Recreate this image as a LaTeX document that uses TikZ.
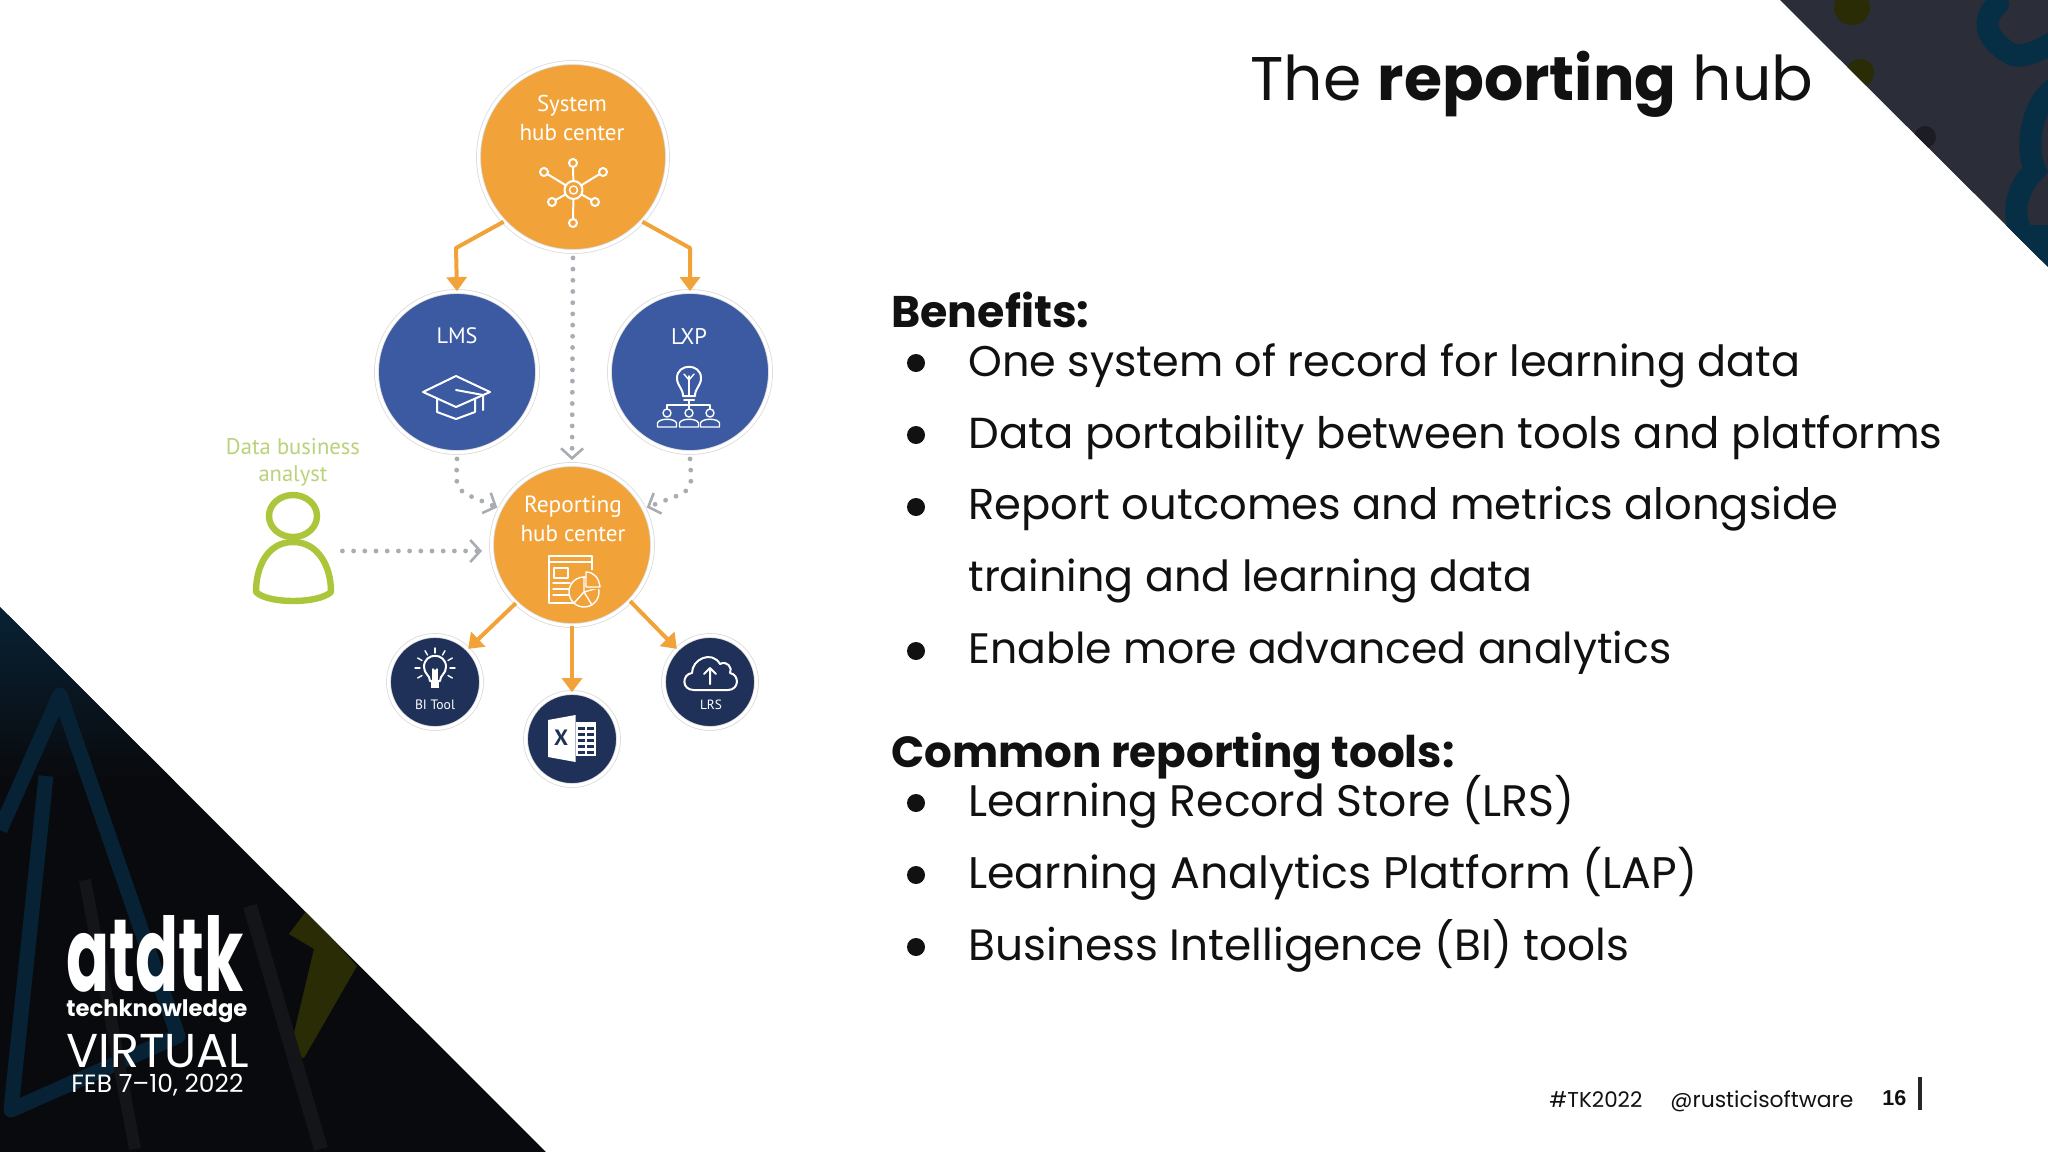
\documentclass[tikz,border=0pt]{standalone}
\usepackage{graphicx}
\usepackage{fontspec}
\setmainfont{Poppins}
\newfontfamily\labelfont{PT Sans}
\newfontfamily\pagefont{Liberation Sans}
\usetikzlibrary{arrows.meta,shapes.geometric}
\newdimen\pxu \pxu=0.5pt
\newcommand{\fitw}[2]{\resizebox{#1\pxu}{!}{#2}}
\definecolor{hubOrange}{HTML}{F1A33A}
\definecolor{lmsBlue}{HTML}{3B5AA1}
\definecolor{toolNavy}{HTML}{1F3158}
\definecolor{dotGray}{HTML}{A9ACB2}
\definecolor{personGreen}{HTML}{ABC63B}
\definecolor{labelGreen}{HTML}{BBD27A}
\definecolor{trBase}{HTML}{2B2D38}
\definecolor{tealStroke}{HTML}{062E44}
\definecolor{blTeal}{HTML}{082235}
\definecolor{blBase}{HTML}{090A0D}
\definecolor{blStroke}{HTML}{141518}
\definecolor{olive}{HTML}{2A2C05}
\definecolor{inkText}{HTML}{111111}
\tikzset{
  hub/.style={circle,fill=#1,draw=black!14,double=white,double distance=1.6pt,line width=0.4pt,inner sep=0pt},
  hubbig/.style={hub=hubOrange,minimum size=94.5pt},
  hubmid/.style={hub=#1,minimum size=80.5pt},
  hubsmall/.style={hub=toolNavy,minimum size=46.5pt},
  inlabel/.style={inner sep=0pt,text=white,font=\labelfont},
  body/.style={inner sep=0pt,anchor=base west,text=inkText},
  foot/.style={inner sep=0pt,anchor=base west,text=inkText},
  logo/.style={inner sep=0pt,anchor=base west,text=white},
  orangearrow/.style={draw=hubOrange,line width=2pt,line join=round,-{Triangle[length=7pt,width=10pt]}},
  dotarrow/.style={draw=dotGray,line width=2.4pt,line cap=round,dash pattern=on 0pt off 5.6pt,rounded corners=6pt,
    -{Straight Barb[length=5pt,width=11pt,line width=1.3pt]}},
  icon/.style={draw=white,line width=1pt,line cap=round,line join=round},
  iconthin/.style={draw=white,line width=0.7pt,line cap=round,line join=round},
  bulletdot/.style={fill=inkText,draw=none},
}
\begin{document}
\begin{tikzpicture}[x=0.5pt,y=-0.5pt]
\useasboundingbox (0,0) rectangle (2048,1152);
\fill[white] (0,0) rectangle (2048,1152);

% top-right corner
\begin{scope}
\clip (1780,0) -- (2048,0) -- (2048,267) -- cycle;
\fill[trBase] (1780,0) rectangle (2048,267);
\fill[olive] (1852,7) circle [radius=18];
\fill[olive] (1860,73) circle [radius=14];
\fill[black!35!trBase] (1925,137) circle [radius=11];
\draw[tealStroke,line width=11pt,line cap=round] (1998,4) .. controls (1980,20) and (1985,40) .. (2013,55) .. controls (2025,58) and (2040,50) .. (2060,38);
\draw[tealStroke,line width=11pt] (2060,85) .. controls (2030,100) and (2025,150) .. (2035,170) .. controls (2015,190) and (2010,215) .. (2025,240);
\fill[tealStroke] (2000,225) rectangle (2048,267);
\end{scope}

% bottom-left corner
\begin{scope}
\clip (0,607) -- (546,1152) -- (0,1152) -- cycle;
\fill[blBase] (0,607) rectangle (546,1152);
\shade[top color=blTeal,bottom color=blBase] (0,607) rectangle (300,780);
\draw[blTeal,line width=7.5pt,line join=round] (0,830) -- (60,695) -- (178,1036) -- (11,1110) -- (46,776);
\fill[olive] (289,934) -- (307,910) -- (357,966) -- (304,1058) -- (289,1054) -- (314,949) -- cycle;
\draw[blStroke,line width=7pt] (250,906) -- (321,1149);
\draw[blStroke,line width=6pt] (85,880) -- (135,1149);
\end{scope}

% title
\node[body] (title) at (1250,100) {\fitw{563}{The \textbf{reporting} hub}};

% right-hand text
\node[body] (benefits) at (891,327) {\fitw{198}{\textbf{Benefits:}}};
\fill[bulletdot] (916,363) circle [radius=9];
\node[body] (b1) at (968,376) {\fitw{832}{One system of record for learning data}};
\fill[bulletdot] (916,435) circle [radius=9];
\node[body] (b2) at (968,448) {\fitw{974}{Data portability between tools and platforms}};
\fill[bulletdot] (916,507) circle [radius=9];
\node[body] (b3) at (968,519) {\fitw{870}{Report outcomes and metrics alongside}};
\node[body] (b3b) at (968,591) {\fitw{564}{training and learning data}};
\fill[bulletdot] (916,651) circle [radius=9];
\node[body] (b4) at (968,663) {\fitw{703}{Enable more advanced analytics}};
\node[body] (common) at (891,767) {\fitw{563}{\textbf{Common reporting tools:}}};
\fill[bulletdot] (916,803) circle [radius=9];
\node[body] (c1) at (968,816) {\fitw{606}{Learning Record Store (LRS)}};
\fill[bulletdot] (916,875) circle [radius=9];
\node[body] (c2) at (968,888) {\fitw{729}{Learning Analytics Platform (LAP)}};
\fill[bulletdot] (916,947) circle [radius=9];
\node[body] (c3) at (968,960) {\fitw{661}{Business Intelligence (BI) tools}};

% footer
\node[foot] (tag) at (1549,1107) {\fitw{93}{\#TK2022}};
\node[foot] (handle) at (1670,1107) {\fitw{183}{@rusticisoftware}};
\node[foot] (page) at (1882,1105) {\fitw{24}{\pagefont\bfseries 16}};
\fill[black!85] (1918,1077) rectangle (1922,1110);

% logo
\node[logo] (atd) at (66,991) {\resizebox{177\pxu}{76\pxu}{\textbf{atdtk}}};
\node[logo] (tech) at (66,1016) {\fitw{181}{\textbf{techknowledge}}};
\node[logo] (virt) at (66,1067) {\fitw{183}{VIRTUAL}};
\node[logo] (feb) at (71,1092) {\fitw{172}{FEB 7–10, 2022}};

% hubs
\node[hubbig] (sys) at (573,157) {};
\node[hubmid=lmsBlue] (lms) at (457,372) {};
\node[hubmid=lmsBlue] (lxp) at (690,372) {};
\node[hubmid=hubOrange] (rep) at (572,545) {};
\node[hubsmall] (bi) at (435,682) {};
\node[hubsmall] (xl) at (572,739) {};
\node[hubsmall] (lrs) at (710,682) {};

% connectors
\coordinate (bendL) at (456,248);
\coordinate (bendR) at (690,248);
\draw[orangearrow] (sys.223) -- (bendL) -- (lms.north);
\draw[orangearrow] (sys.317) -- (bendR) -- (lxp.north);
\draw[orangearrow] (rep.-134) -- (bi.45);
\draw[orangearrow] (rep.-90) -- (xl.north);
\draw[orangearrow] (rep.-44) -- (lrs.135);
\coordinate (bendDL) at (456,490);
\coordinate (bendDR) at (692,490);
\draw[dotarrow] ([yshift=-3pt]lms.south) -- (bendDL) -- ([xshift=-1pt,yshift=1pt]rep.154);
\draw[dotarrow] ([yshift=-3pt]lxp.south) -- (bendDR) -- ([xshift=1pt,yshift=1pt]rep.26);
\draw[dotarrow,shorten <=3pt,shorten >=2pt] (sys.south) -- (rep.north);

% analyst
\node[inner sep=0pt,minimum width=49pt,minimum height=60pt] (analyst) at (293,551) {};
\draw[personGreen,line width=3.2pt] (293,516) ellipse [x radius=24,y radius=21];
\draw[personGreen,line width=3.2pt,line join=round] (293,542) .. controls (268,542) and (256,566) .. (256,592) .. controls (268,604) and (318,604) .. (331,592) .. controls (331,566) and (318,542) .. (293,542) -- cycle;
\coordinate (repIn) at (492,551);
\draw[dotarrow,shorten >=5pt] (analyst.east) -- (repIn);
\node[inner sep=0pt,text=labelGreen,font=\labelfont] (dba1) at (293,447) {\fitw{134}{Data business}};
\node[inner sep=0pt,text=labelGreen,font=\labelfont] (dba2) at (293,476) {\fitw{69}{analyst}};

% hub labels
\node[inlabel] (sys1) at (572,106) {\fitw{70}{System}};
\node[inlabel] (sys2) at (572,133) {\fitw{105}{hub center}};
\node[inlabel] (lmst) at (457,336) {\fitw{41}{LMS}};
\node[inlabel] (lxpt) at (689,336) {\fitw{36}{LXP}};
\node[inlabel] (rep1) at (573,507) {\fitw{98}{Reporting}};
\node[inlabel] (rep2) at (573,534) {\fitw{105}{hub center}};
\node[inlabel] (bit) at (435,705) {\fitw{40}{BI Tool}};
\node[inlabel] (lrst) at (711,705) {\fitw{22}{LRS}};

% hub icon
\foreach \px/\py in {573/163,573/223,544/172,603/172,552/202,595/202}{
  \draw[icon] (573.5,190) -- (\px,\py);
  \fill[hubOrange] (\px,\py) circle [radius=4];
  \draw[icon] (\px,\py) circle [radius=4];
}
\fill[hubOrange] (573.5,190) circle [radius=9];
\draw[icon] (573.5,190) circle [radius=9];
\draw[iconthin] (573.5,190) circle [radius=4];

% graduation cap
\draw[icon] (423,392) -- (456,376) -- (490,392) -- (456,407) -- cycle;
\draw[icon] (437,399) -- (437,412) -- (456,419) -- (475,412) -- (475,399);
\draw[icon] (456,390) -- (483,395) -- (483,410);

% bulb and team
\draw[icon] (683,396) .. controls (683,388) and (677,386) .. (677,378) .. controls (677,363) and (701,363) .. (701,378) .. controls (701,386) and (695,388) .. (695,396) -- cycle;
\draw[iconthin] (689,396) -- (689,376);
\draw[iconthin] (684,374) -- (689,380) -- (694,374);
\draw[icon] (684,400) -- (694,400);
\draw[icon] (689,400) -- (689,405) (667,409) -- (667,405) -- (710,405) -- (710,409) (689,405) -- (689,409);
\foreach \cx in {667,689,710}{
  \draw[iconthin] (\cx,413) circle [radius=4];
  \draw[iconthin] (\cx-9.5,427) -- (\cx-9.5,423) .. controls (\cx-8,418) and (\cx+8,418) .. (\cx+9.5,423) -- (\cx+9.5,427) -- cycle;
}

% report icon
\draw[iconthin] (549,556) rectangle (592,603);
\draw[iconthin] (549,562) -- (592,562);
\draw[iconthin] (554,568) rectangle (568,578);
\foreach \ly in {583,589,595}{\draw[iconthin] (553,\ly) -- (570,\ly);}
\fill[hubOrange] (584,592) circle [radius=15];
\draw[iconthin] (584,592) circle [radius=15];
\draw[iconthin] (584,592) -- (584,577) (584,592) -- (598,588) (584,592) -- (574,603) (584,592) -- (592,605);
\fill[hubOrange] (586,570) -- (600,570) .. controls (600,578) and (600,584) .. (600,589) -- (586,589) -- cycle;
\draw[iconthin] (586,572) .. controls (594,572) and (599,578) .. (600,587) -- (586,587) -- cycle;

% BI bulb
\draw[icon] (430,681) .. controls (430,675) and (424,674) .. (424,667) .. controls (424,652) and (446,652) .. (446,667) .. controls (446,674) and (440,675) .. (440,681) -- cycle;
\fill[white] (431,682) rectangle (439,688);
\draw[iconthin] (433,681) -- (433,669) (437,681) -- (437,669) (435,681) -- (435,670);
\foreach \a in {-30,-60,-90,-120,-150,0,180,30,150}{
  \draw[iconthin] (435,668) ++(\a:15) -- ++(\a:5);
}

% Excel icon
\fill[white] (548,720) -- (575.5,715) -- (575.5,762) -- (548,757) -- cycle;
\node[inner sep=0pt,text=toolNavy,font=\labelfont\bfseries] (xlx) at (561,738) {\fitw{14}{X}};
\fill[white] (576,722) rectangle (596,756);
\foreach \gy in {727,733,739,745,751}{\fill[toolNavy] (578,\gy) rectangle (585,\gy+3);\fill[toolNavy] (587,\gy) rectangle (594,\gy+3);}

% cloud
\draw[icon] (694,690) .. controls (681,690) and (682,674) .. (692,673) .. controls (692,659) and (712,650) .. (720,664) .. controls (727,660) and (733,668) .. (730,673) .. controls (740,675) and (739,690) .. (728,690) -- cycle;
\draw[icon] (710,684) -- (710,668) (704,674) -- (710,668) -- (716,674);
\end{tikzpicture}
\end{document}
